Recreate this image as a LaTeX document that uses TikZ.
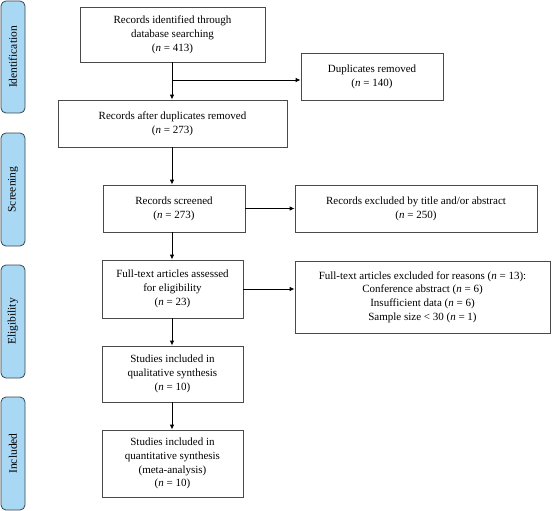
\documentclass[tikz,border=0pt]{standalone}
\usepackage{fontspec}
\setmainfont{Liberation Serif}
\usetikzlibrary{arrows.meta,calc}
\definecolor{sidefill}{HTML}{A9D8F5}
\definecolor{sideline}{HTML}{37474F}
\definecolor{boxline}{HTML}{4A4A4A}
\begin{document}
\begin{tikzpicture}[x=1pt,y=-1pt,
  box/.style={draw=boxline,line width=0.8pt,align=center,inner sep=2pt,
    font=\fontsize{11}{13.8}\selectfont,anchor=center},
  side/.style={draw=sideline,fill=sidefill,line width=0.8pt,rounded corners=5pt,
    minimum width=24pt,anchor=center},
  sidetxt/.style={rotate=90,font=\fontsize{11.5}{13}\selectfont},
  arr/.style={line width=0.9pt,-{Latex[length=5pt,width=4.5pt]}},
  ]
\useasboundingbox (0,0) rectangle (552,511);
% side bars
\node[side,minimum height=112pt] (sid) at (13,57) {};
\node[sidetxt] at (sid.center) {Identification};
\node[side,minimum height=113pt] (sscr) at (13,189.5) {};
\node[sidetxt] at (sscr.center) {Screening};
\node[side,minimum height=113pt] (selg) at (13,321.5) {};
\node[sidetxt] at (selg.center) {Eligibility};
\node[side,minimum height=113pt] (sinc) at (13,453.5) {};
\node[sidetxt] at (sinc.center) {Included};
% main boxes
\node[box,minimum width=185pt,minimum height=55pt] (b1) at (172.5,34.5)
  {Records identified through\\database searching\\(\textit{n} = 413)};
\node[box,minimum width=142pt,minimum height=47pt] (dup) at (372,76.5)
  {Duplicates removed\\(\textit{n} = 140)};
\node[box,minimum width=229pt,minimum height=47pt] (b2) at (172.5,123.5)
  {Records after duplicates removed\\(\textit{n} = 273)};
\node[box,minimum width=142pt,minimum height=47pt] (b3) at (174,208.5)
  {Records screened\\(\textit{n} = 273)};
\node[box,minimum width=242pt,minimum height=47pt] (ex1) at (416,208.5)
  {Records excluded by title and/or abstract\\(\textit{n} = 250)};
\node[box,minimum width=141pt,minimum height=58pt] (b4) at (172.5,289)
  {Full-text articles assessed\\for eligibility\\(\textit{n} = 23)};
\node[box,minimum width=255pt,minimum height=72pt] (ex2) at (422.5,297)
  {Full-text articles excluded for reasons (\textit{n} = 13):\\Conference abstract (\textit{n} = 6)\\Insufficient data (\textit{n} = 6)\\Sample size < 30 (\textit{n} = 1)};
\node[box,minimum width=141pt,minimum height=56pt] (b5) at (172.5,374)
  {Studies included in\\qualitative synthesis\\(\textit{n} = 10)};
\node[box,minimum width=141pt,minimum height=67pt] (b6) at (172.5,463.5)
  {Studies included in\\quantitative synthesis\\(meta-analysis)\\(\textit{n} = 10)};
% connectors
\coordinate (br) at (172,80);
\draw[arr] (b1.south -| br) -- (b2.north -| br);
\draw[arr] (br) -- (br -| dup.west);
\draw[arr] (b2.south -| br) -- (b3.north -| br);
\draw[arr] (b3.east) -- (ex1.west);
\draw[arr] (b3.south -| br) -- (b4.north -| br);
\draw[arr] (b4.east) -- (b4.east -| ex2.west);
\draw[arr] (b4.south -| br) -- (b5.north -| br);
\draw[arr] (b5.south -| br) -- (b6.north -| br);
\end{tikzpicture}
\end{document}
